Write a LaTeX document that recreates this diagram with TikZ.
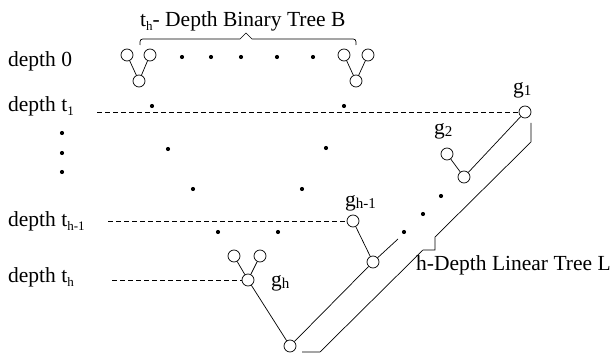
\documentclass[tikz,border=0pt]{standalone}
\usepackage{fontspec}
\setmainfont{Liberation Serif}
\newcommand{\dsub}[1]{\raisebox{-4pt}{\fontsize{13}{13}\selectfont #1}}
\newcommand{\gsub}[1]{\raisebox{-2pt}{\fontsize{15}{15}\selectfont #1}}
\begin{document}
\begin{tikzpicture}[x=1pt,y=-1pt,
  every node/.style={font=\fontsize{21.5}{25}\selectfont},
  cnode/.style={circle,draw,line width=0.7pt,minimum size=12pt,inner sep=0pt},
  dotnode/.style={circle,fill,minimum size=4.2pt,inner sep=0pt},
  lbl/.style={anchor=base west,inner sep=0pt},
  edge/.style={line width=0.7pt},
  dline/.style={line width=0.7pt,dash pattern=on 5pt off 3pt}]
\useasboundingbox (0,0) rectangle (614,358);
% labels
\node[lbl] (title) at (140,27) {t\dsub{h}- Depth Binary Tree B};
\node[lbl] (l0) at (8,67) {depth 0};
\node[lbl] (l1) at (8,112) {depth t\dsub{1}};
\node[lbl] (l2) at (8,227) {depth t\dsub{h-1}};
\node[lbl] (l3) at (8,283) {depth t\dsub{h}};
\node[lbl] (lin) at (416,271) {h-Depth Linear Tree L};
% brace
\draw[edge] (140,45) .. controls (140,39) .. (146,39) -- (240,39) -- (246,33) -- (252,39) -- (350,39) .. controls (356,39) .. (356,45);
% depth-0 binary trees
\node[cnode] (b1) at (127,55) {};
\node[cnode] (b2) at (150,55) {};
\node[cnode] (b3) at (139,81) {};
\node[cnode] (b4) at (344,55) {};
\node[cnode] (b5) at (368,55) {};
\node[cnode] (b6) at (356,81) {};
\draw[edge] (b3) -- (b1) (b3) -- (b2) (b6) -- (b4) (b6) -- (b5);
% dots
\foreach \i/\x/\y in {a1/182/57,a2/211/57,a3/241/57,a4/277/57,a5/313/57,
  c1/152/106,c2/344/106,c3/168/149,c4/326/148,c5/193/189,c6/302/189,
  c7/218/232,c8/278/232,e1/404/232,e2/423/214,e3/441/196,
  v1/62/133,v2/62/153,v3/62/172}
  \node[dotnode] (\i) at (\x,\y) {};
% linear tree
\node[cnode] (g1) at (525,112) {};
\node[cnode] (g2) at (447,154) {};
\node[cnode] (k2) at (464,177) {};
\node[cnode] (gh1) at (353,221) {};
\node[cnode] (kh1) at (373,262) {};
\node[cnode] (gh) at (248,280) {};
\node[cnode] (t1) at (234,256) {};
\node[cnode] (t2) at (260,256) {};
\node[cnode] (root) at (290,346) {};
\coordinate (kend) at (398,239);
\draw[edge] (g1) -- (k2) (g2) -- (k2) (gh1) -- (kh1) (kh1) -- (root)
  (gh) -- (root) (gh) -- (t1) (gh) -- (t2) (kh1) -- (kend);
\node[lbl] (g1l) at (513,94) {g\gsub{1}};
\node[lbl] (g2l) at (434,135) {g\gsub{2}};
\node[lbl] (gh1l) at (345,207) {g\gsub{h-1}};
\node[lbl] (ghl) at (271,287) {g\gsub{h}};
% dashed depth lines
\coordinate (d1) at (97,112);
\coordinate (d2) at (108,221);
\coordinate (d3) at (112,280);
\draw[dline] (d1) -- (g1);
\draw[dline] (d2) -- (gh1);
\draw[dline] (d3) -- (gh);
% bracket of linear tree
\draw[edge] (531,123) -- (531,142) -- (435,237) -- (435,250) -- (423,250) -- (320,352) -- (302,352);
\end{tikzpicture}
\end{document}
